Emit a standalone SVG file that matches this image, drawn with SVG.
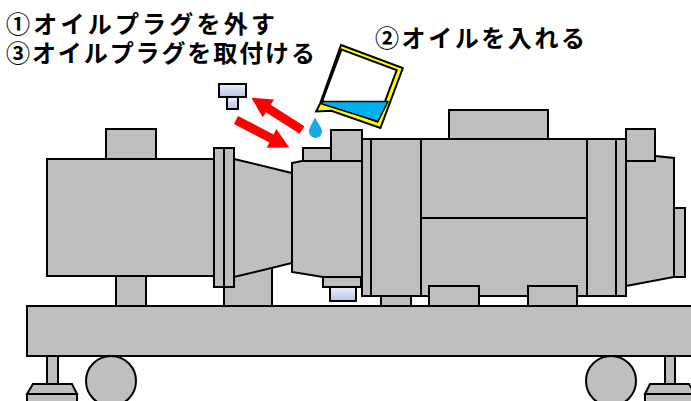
<svg xmlns="http://www.w3.org/2000/svg" width="691" height="401" viewBox="0 0 691 401">
  <style>
    .m { fill: #bfbfbf; stroke: #000; stroke-width: 2; stroke-linejoin: miter; }
    .ln { fill: none; stroke: #000; stroke-width: 2; }
    .plug { fill: url(#plugGrad); stroke: #000; stroke-width: 2; }
    .arrow { fill: #ff0000; }
    .lbl { font-family: "Noto Sans CJK JP", "Noto Sans", sans-serif; font-weight: bold; font-size: 24px; fill: #000; }
  </style>
  <defs>
    <linearGradient id="plugGrad" x1="0" y1="0" x2="0" y2="1">
      <stop offset="0" stop-color="#eef1fa"/>
      <stop offset="1" stop-color="#b7c3e6"/>
    </linearGradient>
    <polygon id="arrowShape" points="0,-4.5 40,-4.5 40,-10.5 60,0 40,10.5 40,4.5 0,4.5"/>
  </defs>

  <rect width="691" height="401" fill="#fff"/>

  <!-- labels -->
  <g id="labels">
    <text class="lbl" x="6" y="33" textLength="269" lengthAdjust="spacing">①オイルプラグを外す</text>
    <text class="lbl" x="6" y="62" textLength="309" lengthAdjust="spacing">③オイルプラグを取付ける</text>
    <text class="lbl" x="375" y="47" textLength="210" lengthAdjust="spacing">②オイルを入れる</text>
  </g>

  <!-- support legs (behind bodies) -->
  <g id="legs">
    <rect class="m" x="116" y="270" width="30" height="36"/>
    <rect class="m" x="224" y="262" width="48" height="44"/>
    <rect class="m" x="381" y="292" width="30" height="14"/>
  </g>

  <!-- pump body on the left -->
  <g id="pump">
    <rect class="m" x="106" y="129" width="50" height="30"/>
    <rect class="m" x="47" y="159" width="167" height="117"/>
    <polygon class="m" points="234,159 292,173 292,263 234,277"/>
    <rect class="m" x="214" y="148" width="10" height="139"/>
    <rect class="m" x="224" y="148" width="10" height="139"/>
  </g>

  <!-- gear housing with the oil plug -->
  <g id="housing">
    <rect class="m" x="303" y="148" width="28" height="13"/>
    <rect class="m" x="331" y="130" width="31" height="31"/>
    <polygon class="m" points="292,163 302,161 362,161 362,277 323,277 292,272"/>
    <rect class="m" x="323" y="277" width="38" height="10"/>
    <rect class="plug" x="330" y="287" width="26" height="14"/>
  </g>

  <!-- motor -->
  <g id="motor">
    <rect class="m" x="449" y="110" width="99" height="29"/>
    <rect class="m" x="362" y="139" width="9" height="157"/>
    <rect class="m" x="371" y="139" width="216" height="157"/>
    <line class="ln" x1="421" y1="139" x2="421" y2="296"/>
    <line class="ln" x1="421" y1="218" x2="587" y2="218"/>
    <rect class="m" x="587" y="139" width="29" height="157"/>
    <rect class="m" x="616" y="139" width="10" height="157"/>
    <rect class="m" x="429" y="286" width="50" height="20"/>
    <rect class="m" x="528" y="286" width="49" height="20"/>
  </g>

  <!-- motor end cover -->
  <g id="endCover">
    <polygon class="m" points="626,153 674,158 674,277 626,286"/>
    <rect class="m" x="674" y="208" width="11" height="69"/>
    <rect class="m" x="626" y="129" width="29" height="32"/>
  </g>

  <!-- common base frame -->
  <g id="base">
    <rect class="m" x="27" y="306" width="680" height="50"/>
  </g>

  <!-- wheels and feet -->
  <g id="wheelLeft">
    <circle class="m" cx="111" cy="381" r="25"/>
  </g>
  <g id="footLeft">
    <rect class="m" x="47" y="356" width="11" height="28"/>
    <polygon class="m" points="33,384 72,384 77,394 27,394"/>
    <rect class="m" x="27" y="394" width="50" height="12"/>
  </g>
  <g id="wheelRight">
    <circle class="m" cx="611" cy="381" r="25"/>
  </g>
  <g id="footRight">
    <rect class="m" x="665" y="356" width="10" height="28"/>
    <polygon class="m" points="650,384 689,384 695,394 645,394"/>
    <rect class="m" x="645" y="394" width="50" height="12"/>
  </g>

  <!-- removed oil plug -->
  <g id="loosePlug">
    <rect class="plug" x="219" y="84" width="27" height="13"/>
    <rect class="plug" x="227" y="97" width="11" height="12"/>
  </g>

  <!-- remove / refit arrows -->
  <g id="arrows">
    <use href="#arrowShape" class="arrow" transform="translate(302,130) rotate(212.6)"/>
    <use href="#arrowShape" class="arrow" transform="translate(236,120) rotate(27.4)"/>
  </g>

  <!-- oil jug and drop -->
  <g id="oilJug">
    <g transform="translate(341,45) rotate(20.5)">
      <polygon points="0,0 66,0 66,64 14,65 0,71 1,62" fill="#ffff00" stroke="#000" stroke-width="2" stroke-linejoin="miter"/>
      <polygon points="2,4 61,4 61,59 2,59" fill="#fff" stroke="#000" stroke-width="2"/>
    </g>
    <polygon points="322,101.5 388,101.5 378,121.5 322,104" fill="#00b0f0" stroke="#000" stroke-width="1.5" stroke-linejoin="round"/>
    <path d="M315,117 C314,121 309,127 309,131.5 A6.5,6.5 0 0 0 322,131.5 C322,127 316,121 315,117 Z" fill="#1ea5e6"/>
  </g>
</svg>
